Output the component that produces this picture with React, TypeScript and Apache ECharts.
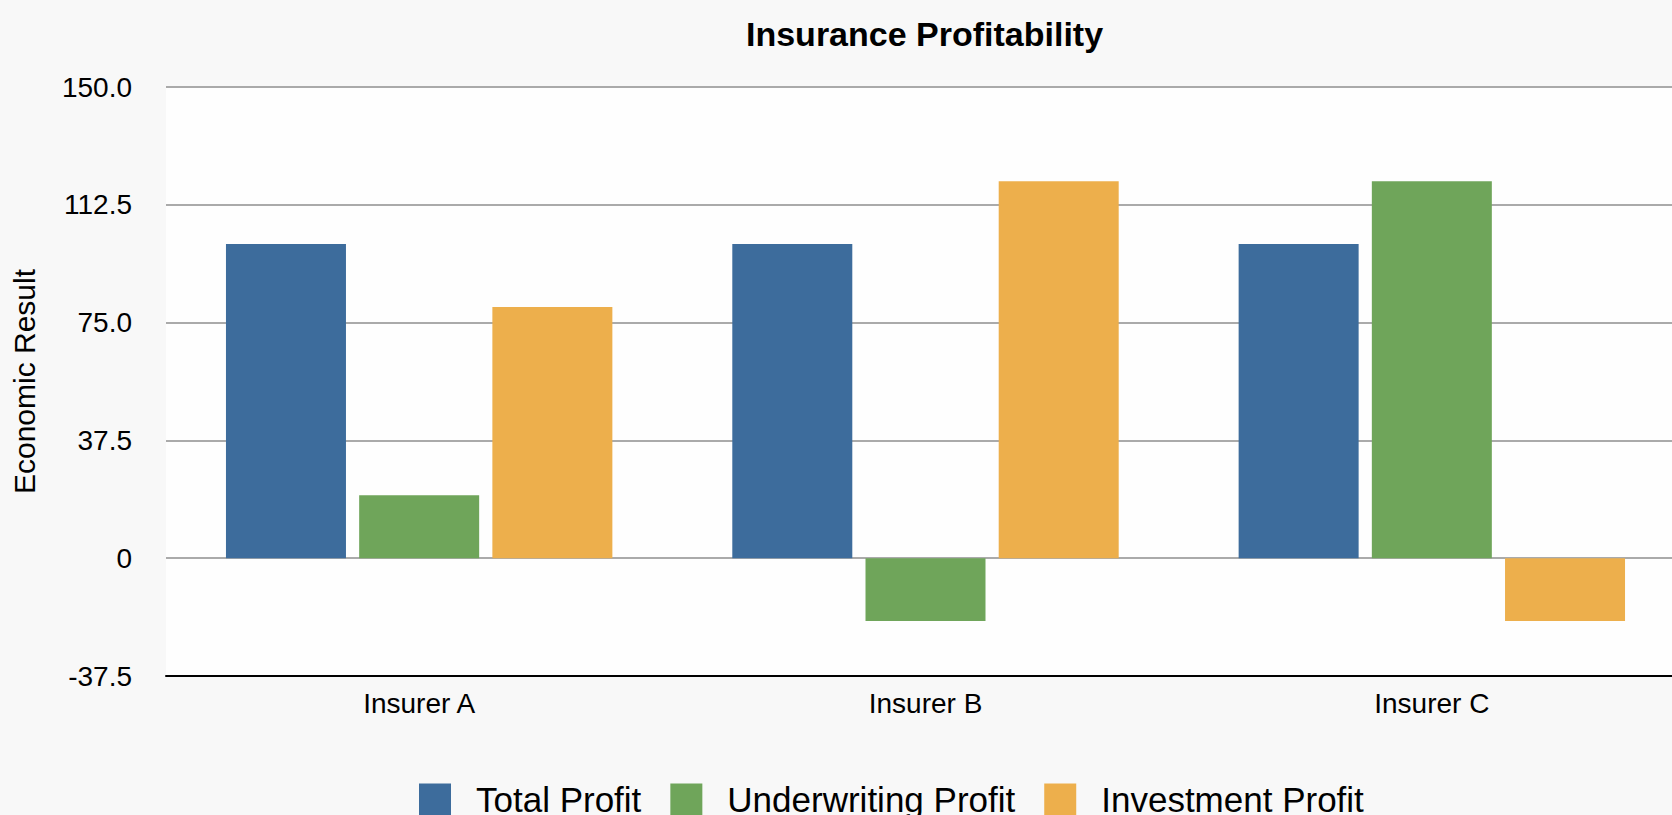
import React, { useEffect, useRef } from "react";
import * as echarts from "echarts";

const categories = ["Insurer A", "Insurer B", "Insurer C"];
const seriesNames = ["Total Profit", "Underwriting Profit", "Investment Profit"];
const totalProfit = [100, 100, 100];
const underwritingProfit = [20, -20, 120];
const investmentProfit = [80, 120, -20];
const colors = ["#3d6c9c", "#6fa55a", "#edaf4c"];

const FONT = "'Liberation Sans', Arial, Helvetica, sans-serif";

export default function App() {
  const ref = useRef<HTMLDivElement>(null);
  useEffect(() => {
    if (!ref.current) return;
    const chart = echarts.init(ref.current, undefined, { renderer: "svg" });
    const values = [totalProfit, underwritingProfit, investmentProfit];
    chart.setOption({
      animation: false,
      backgroundColor: "#f8f8f8",
      textStyle: { fontFamily: FONT },
      title: {
        text: "Insurance Profitability",
        left: 746,
        top: 17,
        padding: 0,
        textStyle: { fontFamily: FONT, fontSize: 34, fontWeight: "bold", color: "#000" },
      },
      legend: {
        left: 419,
        top: 782,
        padding: 0,
        itemWidth: 32,
        itemHeight: 32,
        itemGap: 29,
        icon: "rect",
        data: seriesNames,
        textStyle: { fontFamily: FONT, fontSize: 35, color: "#000", padding: [0, 0, 0, 20] },
      },
      grid: {
        left: 166,
        right: 1,
        top: 87,
        bottom: 139,
        show: true,
        backgroundColor: "#fefefe",
        borderWidth: 0,
      },
      xAxis: {
        type: "category",
        data: categories,
        axisLine: { onZero: false, lineStyle: { color: "#000", width: 2 } },
        axisTick: { show: false },
        axisLabel: { fontFamily: FONT, fontSize: 28, color: "#000", margin: 13 },
      },
      yAxis: {
        type: "value",
        min: -37.5,
        max: 150,
        interval: 37.5,
        name: "Economic Result",
        nameLocation: "middle",
        nameRotate: 90,
        nameGap: 127,
        nameTextStyle: { fontFamily: FONT, fontSize: 30, color: "#000" },
        axisLine: { show: false },
        axisTick: { show: false },
        axisLabel: {
          fontFamily: FONT,
          fontSize: 28,
          color: "#000",
          margin: 34,
          formatter: (v: number) => (v === 0 ? "0" : v.toFixed(1)),
        },
        splitLine: { lineStyle: { color: "#aaaaaa", width: 2 } },
      },
      series: seriesNames.map((name, i) => ({
        name,
        type: "bar",
        data: values[i],
        barWidth: 120,
        barGap: "11%",
        itemStyle: { color: colors[i] },
      })),
    });
    return () => chart.dispose();
  }, []);
  return (
    <div
      style={{
        position: "absolute",
        left: 0,
        top: 0,
        width: 1672,
        height: 815,
        overflow: "hidden",
      }}
    >
      <div ref={ref} style={{ width: 1686, height: 815 }} />
    </div>
  );
}
